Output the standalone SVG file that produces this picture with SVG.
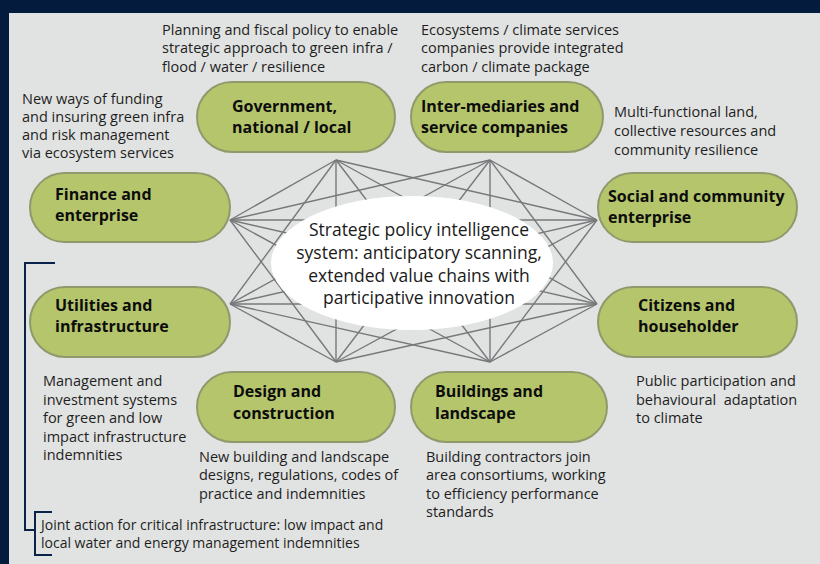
<svg xmlns="http://www.w3.org/2000/svg" width="820" height="564" viewBox="0 0 820 564">
<style>
.pill{fill:#b5c56c;stroke:#8f9a6c;stroke-width:2}
.lbl{font-family:"Open Sans","Noto Sans","Liberation Sans",sans-serif;font-weight:bold;font-size:16px;fill:#0d0d0d}
.ann{font-family:"Open Sans","Noto Sans","Liberation Sans",sans-serif;font-size:14.5px;fill:#1e1e1e}
.ctr{font-family:"Open Sans","Noto Sans","Liberation Sans",sans-serif;font-size:17.5px;fill:#1a1a1a;text-anchor:middle}
.edge{stroke:#76787a;stroke-width:1.4;fill:none}
.brk{stroke:#0b2248;stroke-width:2;fill:none}
</style>
<rect x="0" y="0" width="820" height="564" fill="#031b3d"/>
<rect x="9" y="13" width="811" height="551" fill="#e1e3e2"/>
<g id="connectors" class="edge">
<line x1="336" y1="160" x2="597" y2="220"/>
<line x1="336" y1="160" x2="597" y2="304"/>
<line x1="336" y1="160" x2="490" y2="362"/>
<line x1="336" y1="160" x2="336" y2="362"/>
<line x1="336" y1="160" x2="230" y2="304"/>
<line x1="336" y1="160" x2="230" y2="220"/>
<line x1="490" y1="160" x2="597" y2="220"/>
<line x1="490" y1="160" x2="597" y2="304"/>
<line x1="490" y1="160" x2="490" y2="362"/>
<line x1="490" y1="160" x2="336" y2="362"/>
<line x1="490" y1="160" x2="230" y2="304"/>
<line x1="490" y1="160" x2="230" y2="220"/>
<line x1="597" y1="220" x2="490" y2="362"/>
<line x1="597" y1="220" x2="336" y2="362"/>
<line x1="597" y1="220" x2="230" y2="304"/>
<line x1="597" y1="220" x2="230" y2="220"/>
<line x1="597" y1="304" x2="490" y2="362"/>
<line x1="597" y1="304" x2="336" y2="362"/>
<line x1="597" y1="304" x2="230" y2="304"/>
<line x1="597" y1="304" x2="230" y2="220"/>
<line x1="490" y1="362" x2="230" y2="304"/>
<line x1="490" y1="362" x2="230" y2="220"/>
<line x1="336" y1="362" x2="230" y2="304"/>
<line x1="336" y1="362" x2="230" y2="220"/>
</g>
<g id="center">
<ellipse cx="412" cy="263" rx="141" ry="67" fill="#ffffff"/>
<text class="ctr" x="419" y="236">Strategic policy intelligence</text>
<text class="ctr" x="419" y="259">system: anticipatory scanning,</text>
<text class="ctr" x="419" y="282">extended value chains with</text>
<text class="ctr" x="419" y="304">participative innovation</text>
</g>
<g id="government">
<rect class="pill" x="197" y="82" width="198" height="70" rx="35"/>
<text class="lbl" x="232" y="112">Government,</text>
<text class="lbl" x="232" y="133">national / local</text>
</g>
<g id="intermediaries">
<rect class="pill" x="411" y="82" width="192" height="70" rx="35"/>
<text class="lbl" x="421" y="112">Inter-mediaries and</text>
<text class="lbl" x="421" y="133">service companies</text>
</g>
<g id="finance">
<rect class="pill" x="30" y="173" width="200" height="69" rx="34.5"/>
<text class="lbl" x="55" y="200">Finance and</text>
<text class="lbl" x="55" y="221">enterprise</text>
</g>
<g id="social">
<rect class="pill" x="598" y="173" width="199" height="69" rx="34.5"/>
<text class="lbl" x="608" y="202">Social and community</text>
<text class="lbl" x="608" y="223">enterprise</text>
</g>
<g id="utilities">
<rect class="pill" x="30" y="287" width="200" height="70" rx="35"/>
<text class="lbl" x="55" y="311">Utilities and</text>
<text class="lbl" x="55" y="332">infrastructure</text>
</g>
<g id="citizens">
<rect class="pill" x="598" y="287" width="199" height="70" rx="35"/>
<text class="lbl" x="638" y="311">Citizens and</text>
<text class="lbl" x="638" y="332">householder</text>
</g>
<g id="design">
<rect class="pill" x="197" y="372" width="198" height="70" rx="35"/>
<text class="lbl" x="233" y="397">Design and</text>
<text class="lbl" x="233" y="419">construction</text>
</g>
<g id="buildings">
<rect class="pill" x="411" y="372" width="196" height="70" rx="35"/>
<text class="lbl" x="435" y="397">Buildings and</text>
<text class="lbl" x="435" y="419">landscape</text>
</g>
<g id="annotations" class="ann">
<text x="162" y="35">Planning and fiscal policy to enable</text>
<text x="162" y="53">strategic approach to green infra /</text>
<text x="162" y="72">flood / water / resilience</text>
<text x="421" y="35">Ecosystems / climate services</text>
<text x="421" y="53">companies provide integrated</text>
<text x="421" y="72">carbon / climate package</text>
<text x="22" y="104">New ways of funding</text>
<text x="22" y="122">and insuring green infra</text>
<text x="22" y="140">and risk management</text>
<text x="22" y="158">via ecosystem services</text>
<text x="614" y="117">Multi-functional land,</text>
<text x="614" y="136">collective resources and</text>
<text x="614" y="155">community resilience</text>
<text x="43" y="386">Management and</text>
<text x="43" y="405">investment systems</text>
<text x="43" y="423">for green and low</text>
<text x="43" y="442">impact infrastructure</text>
<text x="43" y="460">indemnities</text>
<text x="199" y="462">New building and landscape</text>
<text x="199" y="480">designs, regulations, codes of</text>
<text x="199" y="499">practice and indemnities</text>
<text x="426" y="462">Building contractors join</text>
<text x="426" y="480">area consortiums, working</text>
<text x="426" y="499">to efficiency performance</text>
<text x="426" y="517">standards</text>
<text x="636" y="386">Public participation and</text>
<text x="636" y="405" style="white-space:pre">behavioural  adaptation</text>
<text x="636" y="423">to climate</text>
<text x="41" y="530" font-size="14">Joint action for critical infrastructure: low impact and</text>
<text x="41" y="548" font-size="14">local water and energy management indemnities</text>
</g>
<g id="brackets" class="brk">
<polyline points="55,263 25,263 25,530 35,530"/>
<polyline points="52,512 35,512 35,555 52,555"/>
</g>
</svg>
